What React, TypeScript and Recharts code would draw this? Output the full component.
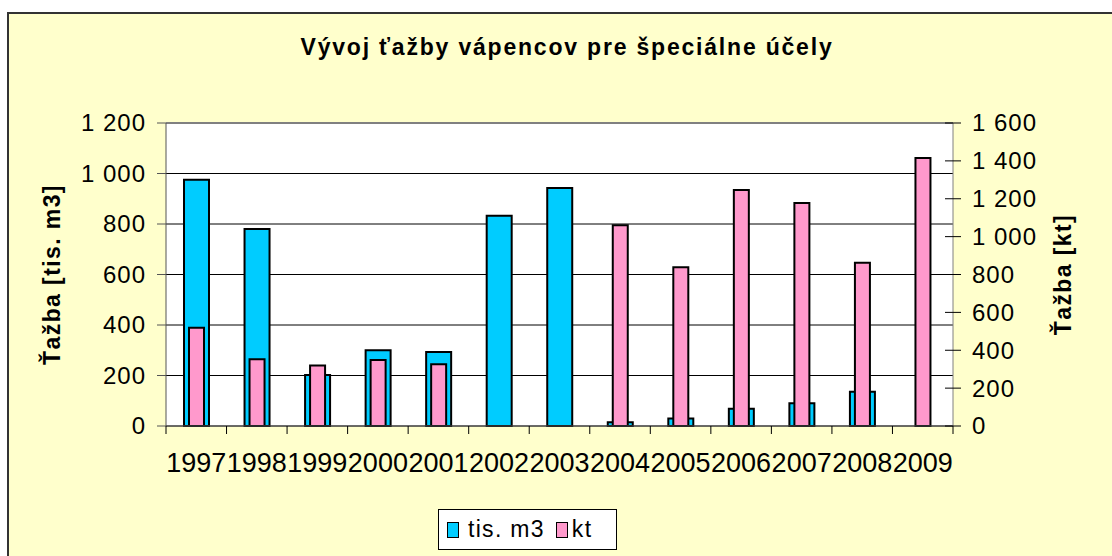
import React from 'react';
import {
  ComposedChart,
  Bar,
  XAxis,
  YAxis,
  CartesianGrid,
  ReferenceLine,
} from 'recharts';

const years = ['1997', '1998', '1999', '2000', '2001', '2002', '2003', '2004', '2005', '2006', '2007', '2008', '2009'];
const tisM3 = [975, 780, 202, 300, 293, 833, 943, 15, 30, 68, 90, 136, 0];
const kt = [519, 352, 320, 348, 326, 0, 0, 1060, 838, 1246, 1177, 862, 1415];
const leftTicks = [0, 200, 400, 600, 800, 1000, 1200];
const rightTicks = [0, 200, 400, 600, 800, 1000, 1200, 1400, 1600];

const data = years.map((year, i) => ({ year, tisM3: tisM3[i], kt: kt[i] }));

const FONT = "Arial, 'Liberation Sans', sans-serif";
const CYAN = '#00CCFF';
const PINK = '#FF99CC';
const BG = '#FFFFCC';

const W = 1112;
const H = 556;
const MARGIN = { top: 123, right: 39, bottom: 70, left: 60 };
const LEFT_W = 106;
const RIGHT_W = 120;
const PLOT_W = W - MARGIN.left - MARGIN.right - LEFT_W - RIGHT_W;
const BAND = PLOT_W / years.length;

// "1 200" style thousands separator
const fmt = (v: number) => String(v).replace(/\B(?=(\d{3})+(?!\d))/g, ' ');

const LeftTick = (props: any) => {
  const { x, y, payload } = props;
  return (
    <text x={x} y={y} dy="0.35em" textAnchor="end" fontSize={24} letterSpacing={1} fontFamily={FONT} fill="#000">
      {fmt(payload.value)}
    </text>
  );
};

const RightTick = (props: any) => {
  const { x, y, payload } = props;
  // tick crosses the axis line: draw the inner half here
  return (
    <g>
      <line x1={x - 27} x2={x - 19} y1={y} y2={y} stroke="#000" />
      <text x={x} y={y} dy="0.35em" textAnchor="start" fontSize={24} letterSpacing={1} fontFamily={FONT} fill="#000">
        {fmt(payload.value)}
      </text>
    </g>
  );
};

const XTick = (props: any) => {
  const { x, y, payload, index } = props;
  const left = x - BAND / 2;
  return (
    <g>
      <line x1={left} x2={left} y1={y} y2={y + 8} stroke="#000" />
      {index === years.length - 1 && (
        <line x1={x + BAND / 2} x2={x + BAND / 2} y1={y} y2={y + 8} stroke="#000" />
      )}
      <text x={x} y={y + 46} textAnchor="middle" fontSize={27} fontFamily={FONT} fill="#000">
        {payload.value}
      </text>
    </g>
  );
};

const axisTitle = (text: string, dx: number) => (props: any) => {
  const vb = props.viewBox;
  const cx = vb.x + dx;
  const cy = vb.y + vb.height / 2;
  return (
    <text
      x={cx}
      y={cy}
      dy="0.35em"
      textAnchor="middle"
      transform={`rotate(-90, ${cx}, ${cy})`}
      fontSize={23}
      fontWeight="bold"
      letterSpacing={1.4}
      fontFamily={FONT}
      fill="#000"
    >
      {text}
    </text>
  );
};

const LegendBox = () => (
  <div
    style={{
      position: 'absolute',
      left: 438,
      top: 509,
      display: 'flex',
      alignItems: 'center',
      width: 177,
      height: 39,
      border: '1px solid #000',
      background: '#fff',
      fontFamily: FONT,
      fontSize: 23,
      letterSpacing: 1.3,
      color: '#000',
    }}
  >
    <span style={{ width: 10, height: 14, background: CYAN, border: '1.5px solid #000', marginLeft: 8, marginRight: 9 }} />
    <span>tis. m3</span>
    <span style={{ width: 10, height: 14, background: PINK, border: '1.5px solid #000', marginLeft: 11, marginRight: 4 }} />
    <span>kt</span>
  </div>
);

export default function App() {
  return (
    <div style={{ position: 'absolute', left: 0, top: 0, width: W, height: H, background: '#fff', overflow: 'hidden' }}>
      <div
        style={{
          position: 'absolute',
          left: 7,
          top: 12,
          width: W,
          height: H,
          background: BG,
          borderTop: '2px solid #333',
          borderLeft: '2px solid #333',
        }}
      />
      <div
        style={{
          position: 'absolute',
          left: 0,
          top: 32,
          width: 1134,
          textAlign: 'center',
          fontFamily: FONT,
          fontWeight: 'bold',
          fontSize: 23,
          letterSpacing: 1.8,
          lineHeight: '30px',
          color: '#000',
        }}
      >
        Vývoj ťažby vápencov pre špeciálne účely
      </div>
      <div style={{ position: 'absolute', left: 0, top: 0 }}>
        <ComposedChart width={W} height={H} data={data} margin={MARGIN} barGap={0}>
          <CartesianGrid xAxisId="main" yAxisId="left" vertical={false} stroke="#000" fill="#fff" />
          <XAxis
            xAxisId="main"
            dataKey="year"
            height={60}
            interval={0}
            tickLine={false}
            tickSize={0}
            tickMargin={0}
            tick={<XTick />}
            axisLine={{ stroke: '#555' }}
          />
          <XAxis xAxisId="hid" dataKey="year" hide height={0} />
          <YAxis
            yAxisId="left"
            orientation="left"
            width={LEFT_W}
            domain={[0, 1200]}
            ticks={leftTicks}
            interval={0}
            tickSize={9}
            tickMargin={11}
            tick={<LeftTick />}
            tickLine={{ stroke: '#555' }}
            axisLine={{ stroke: '#555' }}
            label={{ content: axisTitle('Ťažba [tis. m3]', -8) }}
          />
          <YAxis
            yAxisId="right"
            orientation="right"
            width={RIGHT_W}
            domain={[0, 1600]}
            ticks={rightTicks}
            interval={0}
            tickSize={8}
            tickMargin={11}
            tick={<RightTick />}
            tickLine={{ stroke: '#000' }}
            axisLine={{ stroke: '#808080' }}
            label={{ content: axisTitle('Ťažba [kt]', 110) }}
          />
          <ReferenceLine xAxisId="main" yAxisId="left" y={1200} stroke="#808080" strokeWidth={2} />
          <Bar
            xAxisId="main"
            yAxisId="left"
            dataKey="tisM3"
            name="tis. m3"
            fill={CYAN}
            stroke="#000"
            strokeWidth={2}
            barSize={25}
            isAnimationActive={false}
          />
          <Bar
            xAxisId="hid"
            yAxisId="right"
            dataKey="kt"
            name="kt"
            fill={PINK}
            stroke="#000"
            strokeWidth={2}
            barSize={15}
            isAnimationActive={false}
          />
        </ComposedChart>
      </div>
      <LegendBox />
    </div>
  );
}
